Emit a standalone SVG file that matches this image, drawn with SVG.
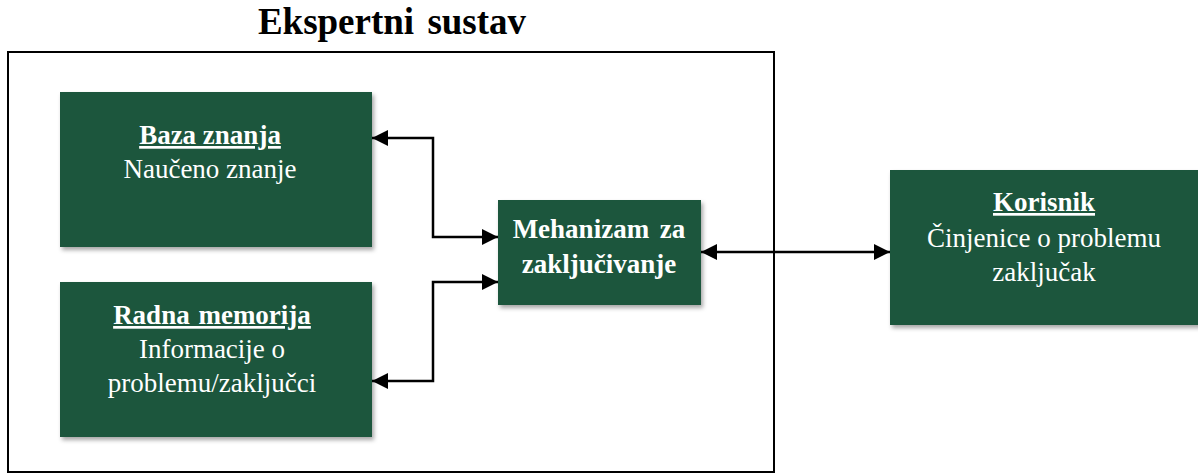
<svg xmlns="http://www.w3.org/2000/svg" width="1198" height="474" viewBox="0 0 1198 474">
<style>
.box{fill:#1F573C;filter:url(#sh)}
.t{font-family:"Liberation Serif","Times New Roman",serif;font-size:27px;fill:#FFFFFF;text-anchor:middle}
.b{font-weight:bold}
.u{text-decoration:underline}
.con{fill:none;stroke:#000;stroke-width:2.5;marker-start:url(#ah);marker-end:url(#ah)}
</style>
<defs>
<filter id="sh" x="-10%" y="-10%" width="125%" height="130%">
<feDropShadow dx="2" dy="3" stdDeviation="2" flood-color="#000" flood-opacity="0.35"/>
</filter>
<marker id="ah" markerUnits="userSpaceOnUse" markerWidth="17" markerHeight="16" refX="16" refY="8" orient="auto-start-reverse" viewBox="0 0 17 16">
<path d="M0,0 L16,8 L0,16 Z" fill="#000"/>
</marker>
</defs>
<rect x="8" y="52" width="766" height="420" fill="none" stroke="#000" stroke-width="2"/>
<text x="392" y="34" font-family="Liberation Serif,'Times New Roman',serif" font-size="37" font-weight="bold" text-anchor="middle" word-spacing="4" fill="#000">Ekspertni sustav</text>
<g id="connectors">
<path class="con" d="M372,138 H433 V237 H498"/>
<path class="con" d="M372,381 H433 V282 H498"/>
<path class="con" d="M701,252 H890"/>
</g>
<g id="baza">
<rect class="box" x="60" y="92" width="312" height="155"/>
<text class="t b u" x="210" y="144">Baza znanja</text>
<text class="t" x="210" y="178">Naučeno znanje</text>
</g>
<g id="radna">
<rect class="box" x="60" y="282" width="312" height="155"/>
<text class="t b u" x="212" y="324" word-spacing="2">Radna memorija</text>
<text class="t" x="212" y="358">Informacije o</text>
<text class="t" x="212" y="392">problemu/zaključci</text>
</g>
<g id="mehanizam">
<rect class="box" x="498" y="200" width="203" height="105"/>
<text class="t b" x="599" y="238" word-spacing="4">Mehanizam za</text>
<text class="t b" x="599" y="273">zaključivanje</text>
</g>
<g id="korisnik">
<rect class="box" x="890" y="170" width="310" height="155"/>
<text class="t b u" x="1044" y="211">Korisnik</text>
<text class="t" x="1044" y="247">Činjenice o problemu</text>
<text class="t" x="1044" y="281">zaključak</text>
</g>
</svg>
